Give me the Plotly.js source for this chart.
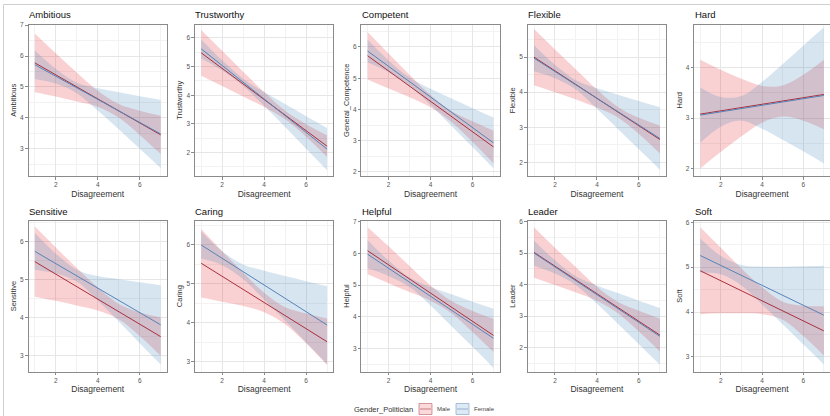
<!DOCTYPE html>
<html>
<head>
<meta charset="utf-8">
<script src="https://cdn.plot.ly/plotly-3.0.1.min.js"></script>
<style>html,body{margin:0;padding:0;background:#fff;}#chart{width:830px;height:416px;}</style>
</head>
<body>
<div id="chart"></div>
<script>
// Panels (facets) and their y-axis labels
const traits = ['Ambitious','Trustworthy','Competent','Flexible','Hard','Sensitive','Caring','Helpful','Leader','Soft'];
const yLabels = ['Ambitious','Trustworthy','General_Competence','Flexible','Hard','Sensitive','Caring','Helpful','Leader','Soft'];
const xTicks = [2, 4, 6];
const xs = [1, 2, 3, 4, 5, 6, 7];          // Disagreement values where bands were read
const fitX = [1, 7];                        // ends of the fitted lines
const genders = ['Male', 'Female'];
const legendTitle = 'Gender_Politician';

// Fitted lines (value at Disagreement = 1 and 7)
const maleFit = [[5.78,3.45],[5.48,2.22],[5.72,2.80],[5.00,2.65],[3.08,3.47],[5.47,3.50],[5.53,3.51],[6.08,3.42],[5.02,2.40],[4.92,3.58]];
const femaleFit = [[5.72,3.48],[5.62,2.12],[5.87,2.93],[4.97,2.68],[3.06,3.45],[5.74,3.81],[6.00,3.94],[5.97,3.33],[5.00,2.36],[5.26,3.93]];

// Confidence bands (upper / lower) at Disagreement = 1..7
const maleHi = [
  [6.73,6.09,5.47,4.88,4.45,4.23,4.07],
  [6.28,5.55,4.82,4.11,3.46,2.99,2.60],
  [6.48,5.79,5.11,4.46,3.94,3.62,3.32],
  [5.80,5.22,4.65,4.08,3.58,3.27,3.05],
  [4.16,3.96,3.78,3.64,3.65,3.86,4.16],
  [6.39,5.84,5.30,4.79,4.36,4.14,4.00],
  [6.41,5.84,5.29,4.77,4.40,4.24,4.11],
  [6.82,6.22,5.60,4.99,4.50,4.19,3.94],
  [5.82,5.17,4.55,3.93,3.45,3.17,2.92],
  [5.89,5.43,4.97,4.55,4.23,4.14,4.13]
];
const maleLo = [
  [4.83,4.69,4.53,4.36,4.01,3.45,2.83],
  [4.68,4.32,3.96,3.59,3.16,2.55,1.84],
  [4.96,4.67,4.39,4.07,3.60,2.96,2.28],
  [4.20,4.00,3.79,3.56,3.28,2.81,2.25],
  [2.00,2.33,2.64,2.91,3.03,2.95,2.78],
  [4.55,4.44,4.32,4.19,3.96,3.52,3.00],
  [4.65,4.54,4.43,4.27,3.96,3.47,2.91],
  [5.34,5.06,4.78,4.51,4.12,3.53,2.90],
  [4.22,3.99,3.75,3.49,3.09,2.51,1.88],
  [3.95,3.97,3.97,3.95,3.83,3.47,3.03]
];
const femaleHi = [
  [6.18,5.59,5.14,4.96,4.83,4.70,4.58],
  [5.95,5.22,4.58,4.11,3.69,3.27,2.86],
  [6.23,5.57,5.02,4.66,4.35,4.04,3.74],
  [5.34,4.78,4.34,4.11,3.93,3.75,3.57],
  [3.61,3.42,3.44,3.72,4.07,4.44,4.80],
  [6.22,5.68,5.26,5.09,5.01,4.93,4.85],
  [6.35,5.84,5.50,5.34,5.20,5.07,4.94],
  [6.41,5.77,5.24,4.94,4.71,4.48,4.26],
  [5.40,4.77,4.26,3.97,3.73,3.49,3.26],
  [5.64,5.25,5.05,5.01,5.01,5.02,5.03]
];
const femaleLo = [
  [5.26,5.11,4.80,4.24,3.63,3.00,2.38],
  [5.29,4.86,4.32,3.63,2.89,2.13,1.38],
  [5.51,5.19,4.76,4.14,3.47,2.80,2.12],
  [4.60,4.40,4.08,3.53,2.95,2.37,1.79],
  [2.51,2.83,2.95,2.79,2.57,2.34,2.10],
  [5.26,5.16,4.95,4.45,3.90,3.33,2.77],
  [5.65,5.48,5.12,4.60,4.06,3.49,2.94],
  [5.53,5.29,4.94,4.36,3.71,3.06,2.40],
  [4.60,4.35,3.98,3.39,2.76,2.11,1.46],
  [4.88,4.84,4.59,4.17,3.73,3.28,2.83]
];

// y-axis ranges of each panel (free scales)
const yRanges = [[2.12,7.02],[1.18,6.47],[1.87,6.72],[1.61,5.93],[1.85,4.86],[2.58,6.55],[2.74,6.63],[2.28,7.03],[1.24,6.03],[2.67,6.04]];

const W = 830, H = 416;
const FONT = '"Liberation Sans", Arial, sans-serif';
const fillM = 'rgba(228,26,28,0.2)', fillF = 'rgba(55,126,184,0.2)';
const lineM = '#a8303f', lineF = '#5783b6';

const colLeft = i => 28.5 + 166.4 * i;
const panelW = 138.5;
const rowTop = [24.5, 220.5], rowBot = [176, 371.7];
const px = v => v / W, py = v => 1 - v / H;

const data = [];
const layout = {
  width: W, height: H,
  margin: {l:0, r:0, t:0, b:0},
  paper_bgcolor: '#fff', plot_bgcolor: '#fff',
  font: {family: FONT, color: '#222'},
  showlegend: false,
  annotations: [],
  shapes: [{type:'rect', xref:'paper', yref:'paper', x0: px(3.5), x1: 1.02, y0: -0.05, y1: py(4.5),
            line:{color:'#cfcfcf', width:1}, fillcolor:'rgba(0,0,0,0)', layer:'below'}]
};

for (let p = 0; p < traits.length; p++) {
  const row = Math.floor(p / 5), col = p % 5;
  const xa = p === 0 ? 'x' : 'x' + (p + 1);
  const ya = p === 0 ? 'y' : 'y' + (p + 1);
  const xk = p === 0 ? 'xaxis' : 'xaxis' + (p + 1);
  const yk = p === 0 ? 'yaxis' : 'yaxis' + (p + 1);
  const l = colLeft(col);
  const dom = [px(l), px(l + panelW)];
  const ydom = [py(rowBot[row]), py(rowTop[row])];

  layout[xk] = {
    domain: dom, anchor: ya, range: [0.7, 7.3], tickvals: xTicks,
    showline: true, mirror: true, linecolor: '#8a8a8a', linewidth: 1,
    ticks: 'outside', ticklen: 2.5, tickcolor: '#8a8a8a', tickwidth: 1,
    tickfont: {size: 6.5, color: '#555'},
    showgrid: true, gridcolor: '#e6e6e6', gridwidth: 1,
    minor: {dtick: 2, tick0: 1, showgrid: true, gridcolor: '#f2f2f2', ticks: ''},
    zeroline: false,
    title: {text: 'Disagreement', font: {size: 8.5, color: '#333'}, standoff: 3}
  };
  layout[yk] = {
    domain: ydom, anchor: xa, range: yRanges[p], dtick: 1,
    showline: true, mirror: true, linecolor: '#8a8a8a', linewidth: 1,
    ticks: 'outside', ticklen: 2.5, tickcolor: '#8a8a8a', tickwidth: 1,
    tickfont: {size: 6.5, color: '#555'},
    showgrid: true, gridcolor: '#e6e6e6', gridwidth: 1,
    minor: {dtick: 0.5, showgrid: true, gridcolor: '#f2f2f2', ticks: ''},
    zeroline: false,
    title: {text: yLabels[p], font: {size: 7.5, color: '#333'}, standoff: 2}
  };

  const common = {xaxis: xa, yaxis: ya, type: 'scatter', mode: 'lines', hoverinfo: 'skip', showlegend: false};
  // Male band
  data.push(Object.assign({}, common, {x: xs, y: maleLo[p], line: {width: 0, shape: 'spline', smoothing: 1}}));
  data.push(Object.assign({}, common, {x: xs, y: maleHi[p], fill: 'tonexty', fillcolor: fillM,
    line: {width: 0, shape: 'spline', smoothing: 1}, name: genders[0]}));
  // Female band
  data.push(Object.assign({}, common, {x: xs, y: femaleLo[p], line: {width: 0, shape: 'spline', smoothing: 1}}));
  data.push(Object.assign({}, common, {x: xs, y: femaleHi[p], fill: 'tonexty', fillcolor: fillF,
    line: {width: 0, shape: 'spline', smoothing: 1}, name: genders[1]}));
  // Fitted lines
  data.push(Object.assign({}, common, {x: fitX, y: maleFit[p], line: {color: lineM, width: 1}, name: genders[0]}));
  data.push(Object.assign({}, common, {x: fitX, y: femaleFit[p], line: {color: lineF, width: 1}, name: genders[1]}));

  // Facet title (strip text)
  layout.annotations.push({
    xref: 'paper', yref: 'paper', x: px(l - 1.5), y: py(rowTop[row] - 9.5),
    xanchor: 'left', yanchor: 'middle', showarrow: false,
    text: traits[p], font: {size: 9.5, color: '#111', family: FONT}
  });
}

// Legend (drawn as keys + labels, like ggplot's bottom legend)
const legY = 409;
layout.annotations.push({xref:'paper', yref:'paper', x: px(415), y: py(legY), xanchor:'right', yanchor:'middle',
  showarrow:false, text: legendTitle, font:{size:7.5, color:'#333', family: FONT}});
const keys = [{x0: 419, label: genders[0], fill: fillM, line: lineM}, {x0: 456, label: genders[1], fill: fillF, line: lineF}];
keys.forEach(k => {
  layout.shapes.push({type:'rect', xref:'paper', yref:'paper', x0: px(k.x0), x1: px(k.x0 + 13), y0: py(legY + 5.5), y1: py(legY - 5.5),
    fillcolor: k.fill, line:{color: k.line, width: 0.6}, opacity: 0.8});
  layout.shapes.push({type:'line', xref:'paper', yref:'paper', x0: px(k.x0 + 1), x1: px(k.x0 + 12), y0: py(legY), y1: py(legY),
    line:{color: k.line, width: 0.8}, opacity: 0.7});
  layout.annotations.push({xref:'paper', yref:'paper', x: px(k.x0 + 16), y: py(legY), xanchor:'left', yanchor:'middle',
    showarrow:false, text: k.label, font:{size:6, color:'#444', family: FONT}});
});

Plotly.newPlot('chart', data, layout, {displayModeBar: false, staticPlot: true});
</script>
</body>
</html>
